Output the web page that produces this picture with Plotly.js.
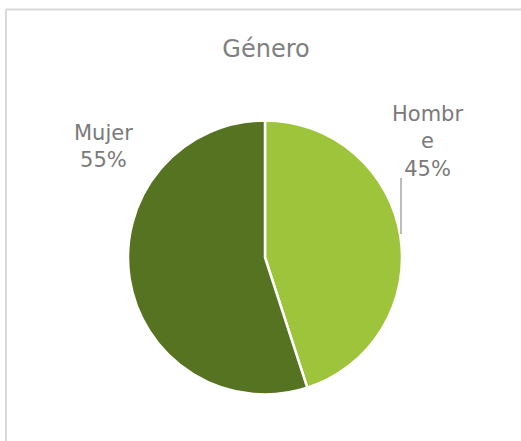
<!DOCTYPE html>
<html>
<head>
<meta charset="utf-8">
<script src="https://cdn.plot.ly/plotly-3.0.1.min.js"></script>
<style>
html,body{margin:0;padding:0;background:#fff;}
#chart{width:521px;height:441px;}
</style>
</head>
<body>
<div id="chart"></div>
<script>
const labels = ["Hombre", "Mujer"];
const values = [45, 55];
const labelTexts = ["Hombr<br>e<br>45%", "Mujer<br>55%"];
const colors = ["#9DC43A", "#567321"];

const W = 521, H = 441;
const fontFam = "'DejaVu Sans', sans-serif";
const textColor = "#7a7a7a";

const data = [{
  type: "pie",
  labels: labels,
  values: values,
  sort: false,
  direction: "clockwise",
  rotation: 0,
  textinfo: "none",
  hoverinfo: "label+percent",
  marker: { colors: colors, line: { color: "#ffffff", width: 2.5 } },
  domain: { x: [128 / W, 402 / W], y: [1 - 395 / H, 1 - 120 / H] },
  showlegend: false
}];

const layout = {
  width: W, height: H,
  margin: { l: 0, r: 0, t: 0, b: 0 },
  paper_bgcolor: "#ffffff",
  title: {
    text: "Género",
    font: { family: fontFam, size: 24, color: "#808080" },
    x: 266 / W, xanchor: "center",
    y: 1 - 49 / H, yanchor: "middle"
  },
  annotations: [
    { text: labelTexts[0], x: 427 / W, y: 1 - 141 / H, xref: "paper", yref: "paper",
      xanchor: "center", yanchor: "middle", showarrow: false, align: "center",
      font: { family: fontFam, size: 21, color: textColor } },
    { text: labelTexts[1], x: 103 / W, y: 1 - 147 / H, xref: "paper", yref: "paper",
      xanchor: "center", yanchor: "middle", showarrow: false, align: "center",
      font: { family: fontFam, size: 21, color: textColor } }
  ],
  shapes: [
    { type: "line", xref: "paper", yref: "paper", x0: 401 / W, x1: 401 / W, y0: 1 - 178 / H, y1: 1 - 234 / H,
      line: { color: "#a6a6a6", width: 1.5 } },
    { type: "line", xref: "paper", yref: "paper", x0: 6 / W, x1: 1.05, y0: 1 - 9.5 / H, y1: 1 - 9.5 / H,
      line: { color: "#d9d9d9", width: 2 } },
    { type: "line", xref: "paper", yref: "paper", x0: 6 / W, x1: 6 / W, y0: 1 - 9.5 / H, y1: -0.05,
      line: { color: "#d9d9d9", width: 2 } }
  ]
};

Plotly.newPlot("chart", data, layout, { displayModeBar: false });
</script>
</body>
</html>
